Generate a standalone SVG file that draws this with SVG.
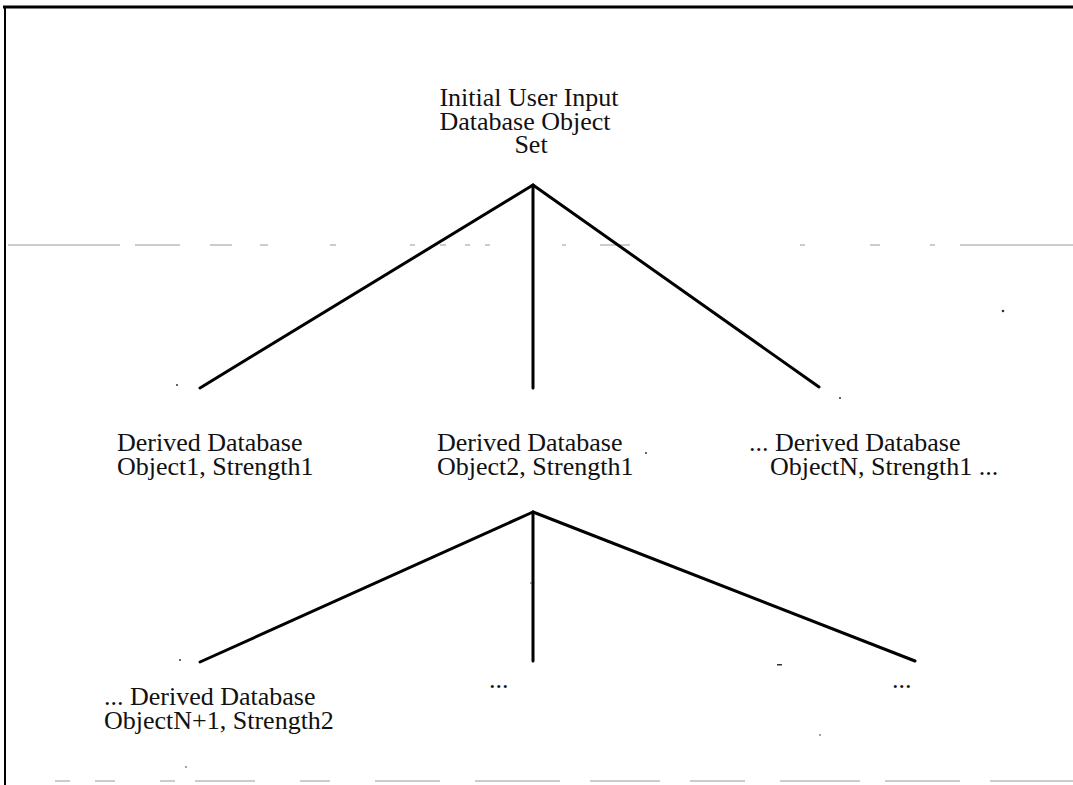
<svg xmlns="http://www.w3.org/2000/svg" width="1073" height="785" viewBox="0 0 1073 785">
  <style>
    .lbl { font-family: "Liberation Serif", "Times New Roman", serif; font-size: 26px; fill: #111; }
    .mid { text-anchor: middle; }
    .edge { stroke: #000; stroke-width: 3; stroke-linecap: round; fill: none; }
    .frame { stroke: #000; fill: none; }
    .rule { stroke: #9a9a9a; stroke-width: 1.2; fill: none; }
    .speck { fill: #333; }
  </style>

  <!-- page frame: top and left edges, faint ruled lines -->
  <g id="frame">
    <line class="frame" x1="3" y1="7" x2="1073" y2="7" stroke-width="3"/>
    <line class="frame" x1="5" y1="7" x2="5" y2="785" stroke-width="2"/>
    <path class="rule" d="M8 245 H120 M135 245 H180 M210 245 H232 M260 245 H268 M330 245 H336 M410 245 H415 M440 245 H446 M465 245 H470 M485 245 H490 M562 245 H566 M600 245 H630 M800 245 H805 M870 245 H880 M930 245 H935 M960 245 H1073"/>
    <path class="rule" d="M55 781 H70 M95 781 H115 M160 781 H175 M195 781 H255 M300 781 H330 M375 781 H440 M475 781 H560 M590 781 H660 M690 781 H745 M780 781 H860 M885 781 H960 M990 781 H1073" stroke="#555" stroke-width="1.5"/>
  </g>

  <!-- connectors -->
  <g id="connectors">
    <line class="edge" x1="533" y1="185" x2="200" y2="388"/>
    <line class="edge" x1="533" y1="185" x2="533" y2="388"/>
    <line class="edge" x1="533" y1="185" x2="819" y2="387"/>
    <line class="edge" x1="533" y1="512" x2="200" y2="662"/>
    <line class="edge" x1="533" y1="512" x2="533" y2="661"/>
    <line class="edge" x1="533" y1="512" x2="915" y2="661"/>
  </g>

  <g id="root">
    <text class="lbl mid" x="529" y="106">Initial User Input</text>
    <text class="lbl mid" x="525" y="129.5">Database Object</text>
    <text class="lbl mid" x="531" y="153">Set</text>
  </g>

  <g id="derived1">
    <text class="lbl" x="117" y="451">Derived Database</text>
    <text class="lbl" x="117" y="474.5">Object1,  Strength1</text>
  </g>

  <g id="derived2">
    <text class="lbl" x="437" y="451">Derived Database</text>
    <text class="lbl" x="437" y="474.5">Object2,  Strength1</text>
  </g>

  <g id="derivedN">
    <text class="lbl" x="749" y="451">... Derived Database</text>
    <text class="lbl" x="770" y="474.5">ObjectN, Strength1 ...</text>
  </g>

  <g id="derivedN1">
    <text class="lbl" x="104" y="705">... Derived Database</text>
    <text class="lbl" x="104" y="728.5">ObjectN+1,  Strength2</text>
  </g>

  <g id="more-middle">
    <text class="lbl" x="489" y="688">...</text>
  </g>

  <g id="more-right">
    <text class="lbl" x="892" y="688">...</text>
  </g>

  <!-- small stray marks -->
  <g id="specks">
    <circle class="speck" cx="177" cy="385" r="1"/>
    <circle class="speck" cx="840" cy="398" r="1"/>
    <circle class="speck" cx="646" cy="453" r="1"/>
    <circle class="speck" cx="531" cy="583" r="0.8"/>
    <circle class="speck" cx="180" cy="660" r="1"/>
    <rect class="speck" x="777" y="664" width="5" height="1.5"/>
    <circle class="speck" cx="186" cy="767" r="0.8"/>
    <circle class="speck" cx="820" cy="735" r="0.8"/>
    <circle class="speck" cx="1003" cy="311" r="1.3"/>
  </g>
</svg>
